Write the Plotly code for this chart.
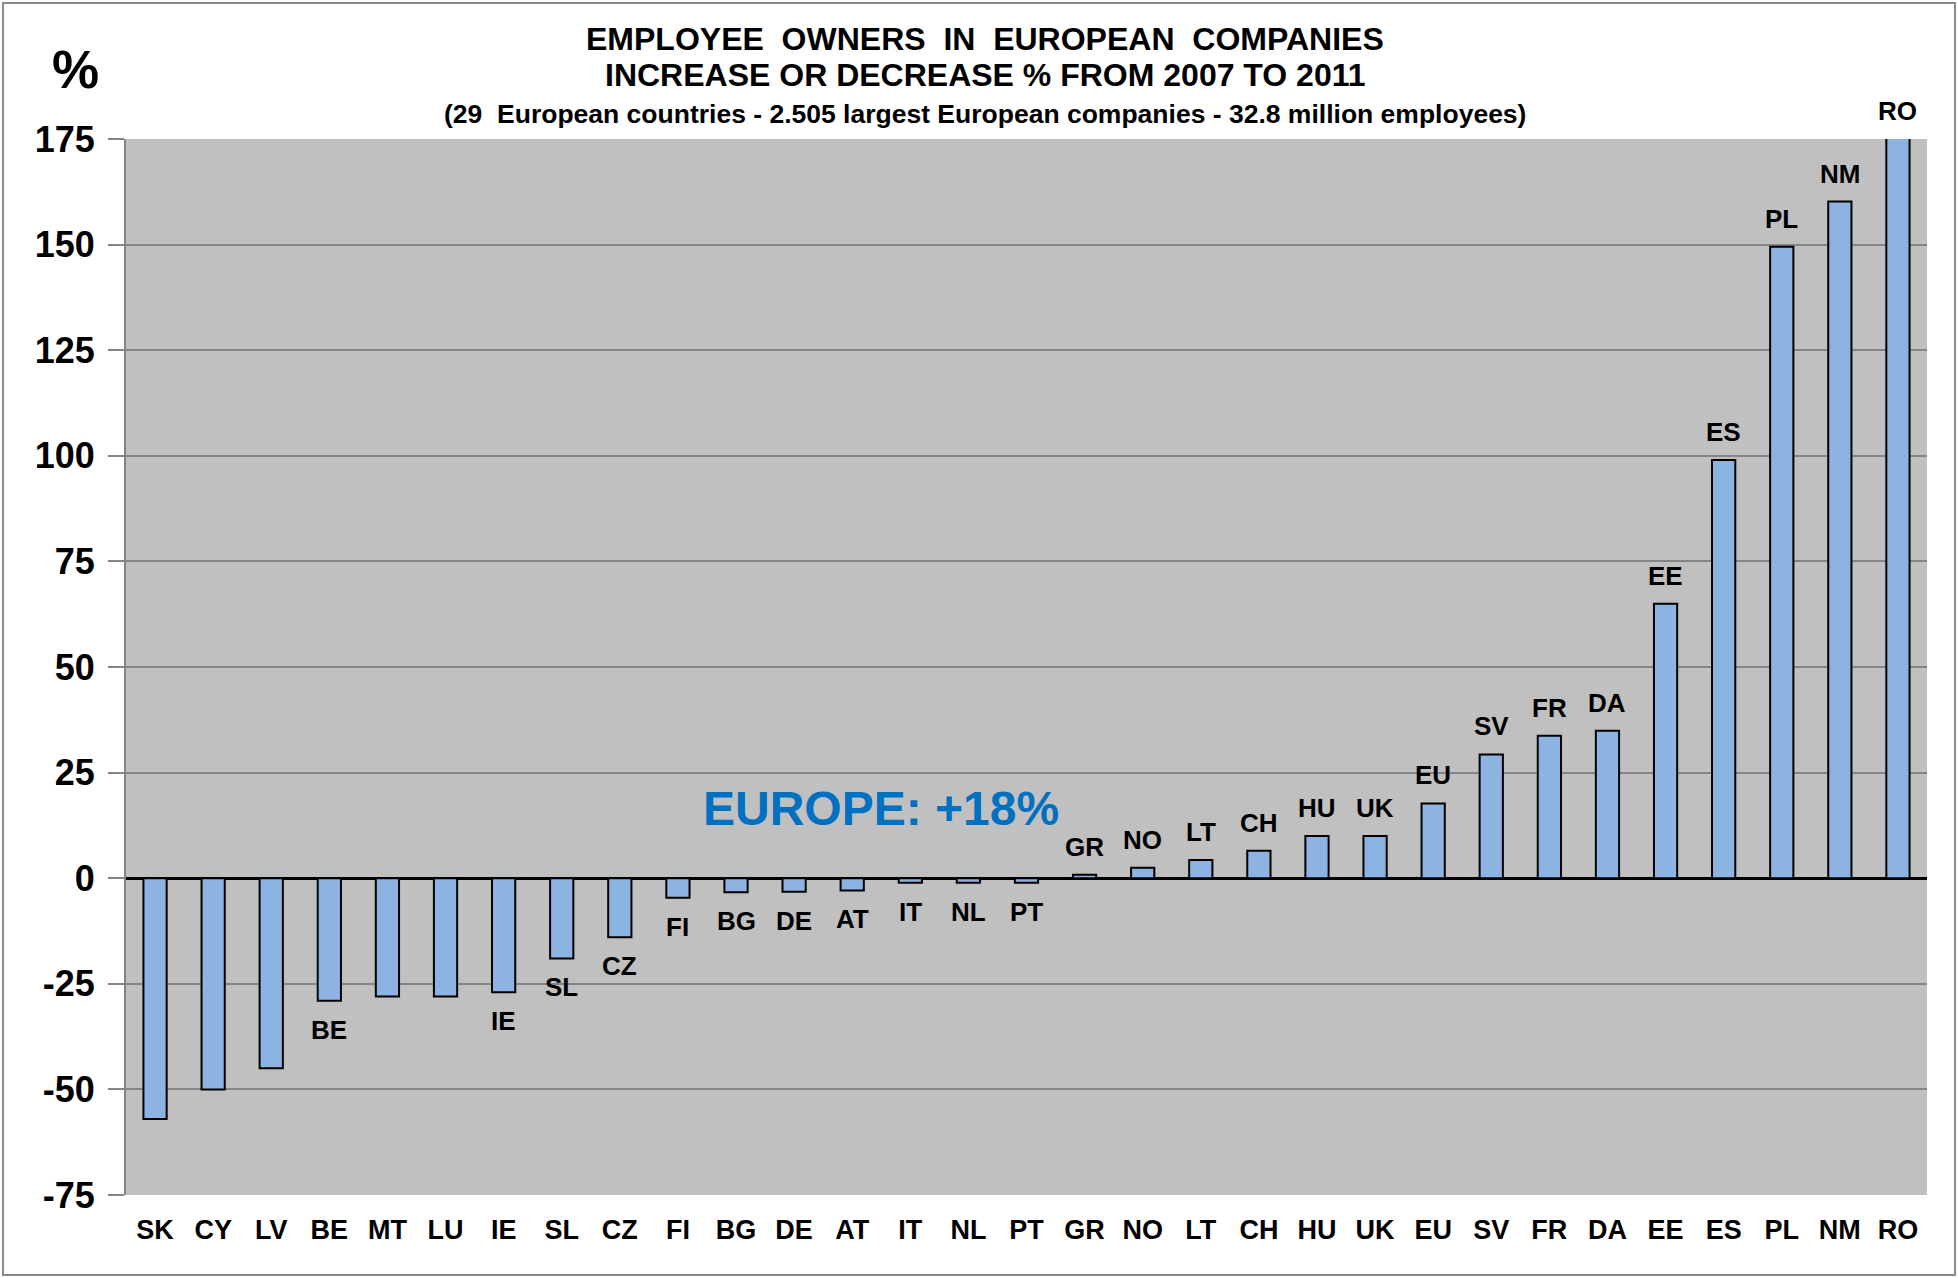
import plotly.graph_objects as go

countries = ["SK", "CY", "LV", "BE", "MT", "LU", "IE", "SL", "CZ", "FI", "BG", "DE", "AT", "IT", "NL", "PT",
             "GR", "NO", "LT", "CH", "HU", "UK", "EU", "SV", "FR", "DA", "EE", "ES", "PL", "NM", "RO"]
change_pct = [-57, -50, -45, -29, -28, -28, -27, -19, -14, -4.6, -3.3, -3.2, -2.9, -1.1, -1.1, -1.1,
              0.8, 2.5, 4.3, 6.5, 10, 10, 17.7, 29.3, 33.7, 34.9, 65, 99, 149.5, 160.2, 180]  # RO runs off the top
bar_labels = ["", "", "", "BE", "", "", "IE", "SL", "CZ", "FI", "BG", "DE", "AT", "IT", "NL", "PT",
              "GR", "NO", "LT", "CH", "HU", "UK", "EU", "SV", "FR", "DA", "EE", "ES", "PL", "NM", "RO"]
y_ticks = [-75, -50, -25, 0, 25, 50, 75, 100, 125, 150, 175]

W, H = 1958, 1278
ml, mr, mt, mb = 126, 31, 139, 83
FONT = "Liberation Sans, Arial, sans-serif"


def px(x):
    return (x - ml) / (W - ml - mr)


def py(y):
    return (H - mb - y) / (H - mt - mb)


fig = go.Figure(go.Bar(
    x=countries, y=change_pct,
    marker=dict(color="#8DB3E2", line=dict(color="black", width=2)),
))

# labels above / below the bars
for c, v, lab in zip(countries, change_pct, bar_labels):
    if not lab:
        continue
    fig.add_annotation(x=c, y=min(v, y_ticks[-1]), text=lab, showarrow=False,
                       yanchor="middle", yshift=28 if v > 0 else -29,
                       font=dict(family=FONT, size=26, color="black", weight="bold"))

fig.add_annotation(x=12.5, y=16.5, text="EUROPE: +18%", showarrow=False,
                   font=dict(family=FONT, size=48, color="#0070C0", weight="bold"))

# titles
titles = [("EMPLOYEE  OWNERS  IN  EUROPEAN  COMPANIES", 39, 32),
          ("INCREASE OR DECREASE % FROM 2007 TO 2011", 75, 32),
          ("(29  European countries - 2.505 largest European companies - 32.8 million employees)", 114, 26.5)]
for txt, y, sz in titles:
    fig.add_annotation(xref="paper", yref="paper", x=px(985), y=py(y), text=txt, showarrow=False,
                       xanchor="center", yanchor="middle",
                       font=dict(family=FONT, size=sz, color="black", weight="bold"))
fig.add_annotation(xref="paper", yref="paper", x=px(75), y=py(70), text="%", showarrow=False,
                   xanchor="center", yanchor="middle",
                   font=dict(family=FONT, size=53, color="black", weight="bold"))

# outer frame
fig.add_shape(type="rect", xref="paper", yref="paper", x0=px(3), x1=px(1955), y0=py(1275), y1=py(3),
              line=dict(color="#8C8C8C", width=2), layer="below")

fig.update_layout(
    width=W, height=H,
    margin=dict(l=ml, r=mr, t=mt, b=mb),
    paper_bgcolor="white", plot_bgcolor="#C0C0C0",
    bargap=0.6, showlegend=False,
    font=dict(family=FONT, color="black"),
)
fig.update_xaxes(range=[-0.5, len(countries) - 0.5], showgrid=False, showline=False, ticks="",
                 tickfont=dict(family=FONT, size=27, weight="bold"), ticklabelstandoff=16)
fig.update_yaxes(range=[-75, 175], tickvals=y_ticks, ticktext=[str(t) for t in y_ticks],
                 showgrid=True, gridcolor="#858585", gridwidth=2,
                 zeroline=True, zerolinecolor="black", zerolinewidth=3,
                 showline=True, linecolor="#858585", linewidth=2,
                 ticks="outside", ticklen=16, tickcolor="#858585", tickwidth=2,
                 tickfont=dict(family=FONT, size=36, weight="bold"), ticklabelstandoff=6)

fig.write_html("out.html", config={"displayModeBar": False},
               post_script="document.body.style.margin='0px';")
